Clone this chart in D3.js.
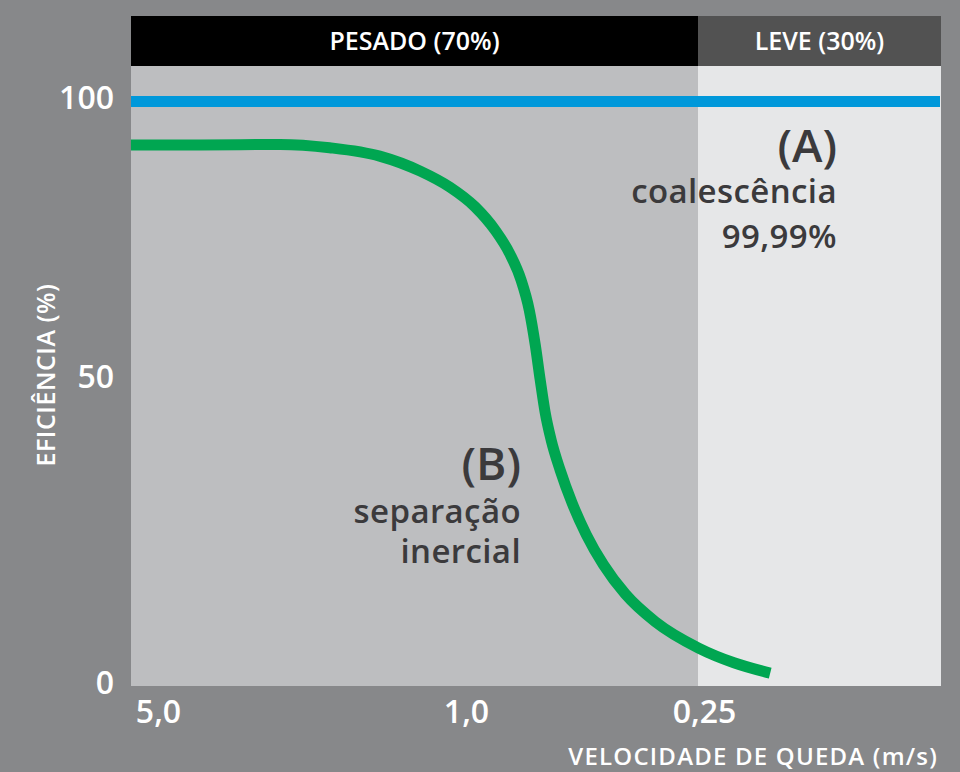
<!DOCTYPE html>
<html>
<head>
<meta charset="utf-8">
<script src="https://cdn.jsdelivr.net/npm/d3@7"></script>
<style>
  html, body { margin: 0; padding: 0; background: #87888a; }
  svg { display: block; }
  text { font-family: "Open Sans", "DejaVu Sans", sans-serif; }
</style>
</head>
<body>
<svg id="chart" width="960" height="772"></svg>
<script>
// ---- data ----
const bandLabels = ["PESADO (70%)", "LEVE (30%)"];
const bandShares = [70, 30];

const velocityTicks = [5, 1, 0.25];
const velocityTickLabels = ["5,0", "1,0", "0,25"];

const efficiencyTicks = [0, 50, 100];
const efficiencyTickLabels = ["0", "50", "100"];

// (A) coalescência — constant efficiency
const coalescenceEfficiency = 99.99;

// (B) separação inercial — efficiency vs. drop velocity (m/s)
const inertialVelocity   = [5.76, 4.02, 2.64, 2.04, 1.57, 1.27, 1.087, 0.949, 0.844, 0.774, 0.726, 0.692, 0.668, 0.649, 0.631, 0.609, 0.578, 0.539, 0.496, 0.449, 0.395, 0.332, 0.258, 0.210, 0.170];
const inertialEfficiency = [92.2, 92.2, 92.3, 91.7, 90.2, 87.5, 84.6, 81.1, 76.9, 72.6, 68.0, 62.6, 56.3, 50.0, 44.8, 40.2, 35.3, 29.9, 24.7, 19.8, 15.0, 10.5, 6.2, 3.8, 2.1];

const xTitle = "VELOCIDADE DE QUEDA (m/s)";
const yTitle = "EFICIÊNCIA (%)";
const annotationA = ["(A)", "coalescência", "99,99%"];
const annotationB = ["(B)", "separação", "inercial"];

// ---- layout ----
const plot = { left: 131, right: 941, top: 66, bottom: 686, bandTop: 16 };
const svg = d3.select("#chart");

const shareScale = d3.scaleLinear().domain([0, 100]).range([plot.left, plot.right]);
const x = d3.scaleLog().domain(velocityTicks).range([158, 466, 704]);
const y = d3.scaleLinear().domain(efficiencyTicks).range([plot.bottom, 380, 101.5]);

// cumulative bands
let acc = 0;
const bands = bandLabels.map((label, i) => {
  const b = { label, start: acc, end: acc + bandShares[i] };
  acc += bandShares[i];
  return b;
});
const bandHeaderFill = ["#000000", "#525252"];
const bandPlotFill = ["#bdbec0", "#e6e7e8"];

// plot backgrounds
svg.append("g").selectAll("rect").data(bands).join("rect")
  .attr("x", d => shareScale(d.start))
  .attr("width", d => shareScale(d.end) - shareScale(d.start))
  .attr("y", plot.top)
  .attr("height", plot.bottom - plot.top)
  .attr("fill", (d, i) => bandPlotFill[i]);

// header bands
const hdr = svg.append("g");
hdr.selectAll("rect").data(bands).join("rect")
  .attr("x", d => shareScale(d.start))
  .attr("width", d => shareScale(d.end) - shareScale(d.start))
  .attr("y", plot.bandTop)
  .attr("height", plot.top - plot.bandTop)
  .attr("fill", (d, i) => bandHeaderFill[i]);
hdr.selectAll("text").data(bands).join("text")
  .attr("x", d => (shareScale(d.start) + shareScale(d.end)) / 2)
  .attr("y", (plot.bandTop + plot.top) / 2)
  .attr("dy", "0.35em")
  .attr("text-anchor", "middle")
  .attr("fill", "#ffffff")
  .attr("font-size", 25)
  .attr("font-weight", 600)
  .text(d => d.label);

// (A) coalescence line
svg.append("line")
  .attr("x1", plot.left).attr("x2", plot.right - 1)
  .attr("y1", y(coalescenceEfficiency)).attr("y2", y(coalescenceEfficiency))
  .attr("stroke", "#0098da").attr("stroke-width", 11);

// (B) inertial curve
const pts = inertialVelocity.map((v, i) => [v, inertialEfficiency[i]]);
const line = d3.line().x(d => x(d[0])).y(d => y(d[1])).curve(d3.curveMonotoneX);
svg.append("path")
  .attr("d", line(pts))
  .attr("fill", "none")
  .attr("stroke", "#00a651")
  .attr("stroke-width", 11)
  .attr("stroke-linecap", "butt");

// axes
const yAxis = d3.axisLeft(y).tickValues(efficiencyTicks)
  .tickFormat((d, i) => efficiencyTickLabels[i]).tickSize(0).tickPadding(17);
const gy = svg.append("g").attr("transform", `translate(${plot.left},0)`).call(yAxis);
gy.select(".domain").remove();
gy.selectAll("text").attr("fill", "#ffffff").attr("font-size", 32).attr("font-weight", 600)
  .attr("dy", "0.22em")
  .style("font-family", '"Open Sans", sans-serif');

const xAxis = d3.axisBottom(x).tickValues(velocityTicks)
  .tickFormat((d, i) => velocityTickLabels[i]).tickSize(0).tickPadding(14);
const gx = svg.append("g").attr("transform", `translate(0,${plot.bottom})`).call(xAxis);
gx.select(".domain").remove();
gx.selectAll("text").attr("fill", "#ffffff").attr("font-size", 32).attr("font-weight", 600)
  .style("font-family", '"Open Sans", sans-serif');

// axis titles
svg.append("text")
  .attr("x", 938).attr("y", 765)
  .attr("text-anchor", "end")
  .attr("fill", "#ffffff").attr("font-size", 24).attr("font-weight", 600)
  .attr("letter-spacing", 1.2)
  .text(xTitle);
svg.append("text")
  .attr("transform", "translate(55,375) rotate(-90)")
  .attr("text-anchor", "middle")
  .attr("fill", "#ffffff").attr("font-size", 25).attr("font-weight", 600)
  .attr("letter-spacing", 0.5)
  .text(yTitle);

// annotations: one text element per annotation, lines as tspans
const annColor = "#3b3a3c";
function annotate(lines, xr, ys, sizes) {
  const t = svg.append("text")
    .attr("text-anchor", "end")
    .attr("fill", annColor)
    .attr("font-weight", 600);
  lines.forEach((s, i) => {
    t.append("tspan")
      .attr("x", xr).attr("y", ys[i])
      .attr("font-size", sizes[i])
      .attr("letter-spacing", i === 0 ? 0 : 0.4)
      .text(s);
  });
}
annotate(annotationA, 837, [162, 203, 248], [46, 33, 33]);
annotate(annotationB, 521, [480, 523, 563], [46, 33, 33]);
</script>
</body>
</html>
